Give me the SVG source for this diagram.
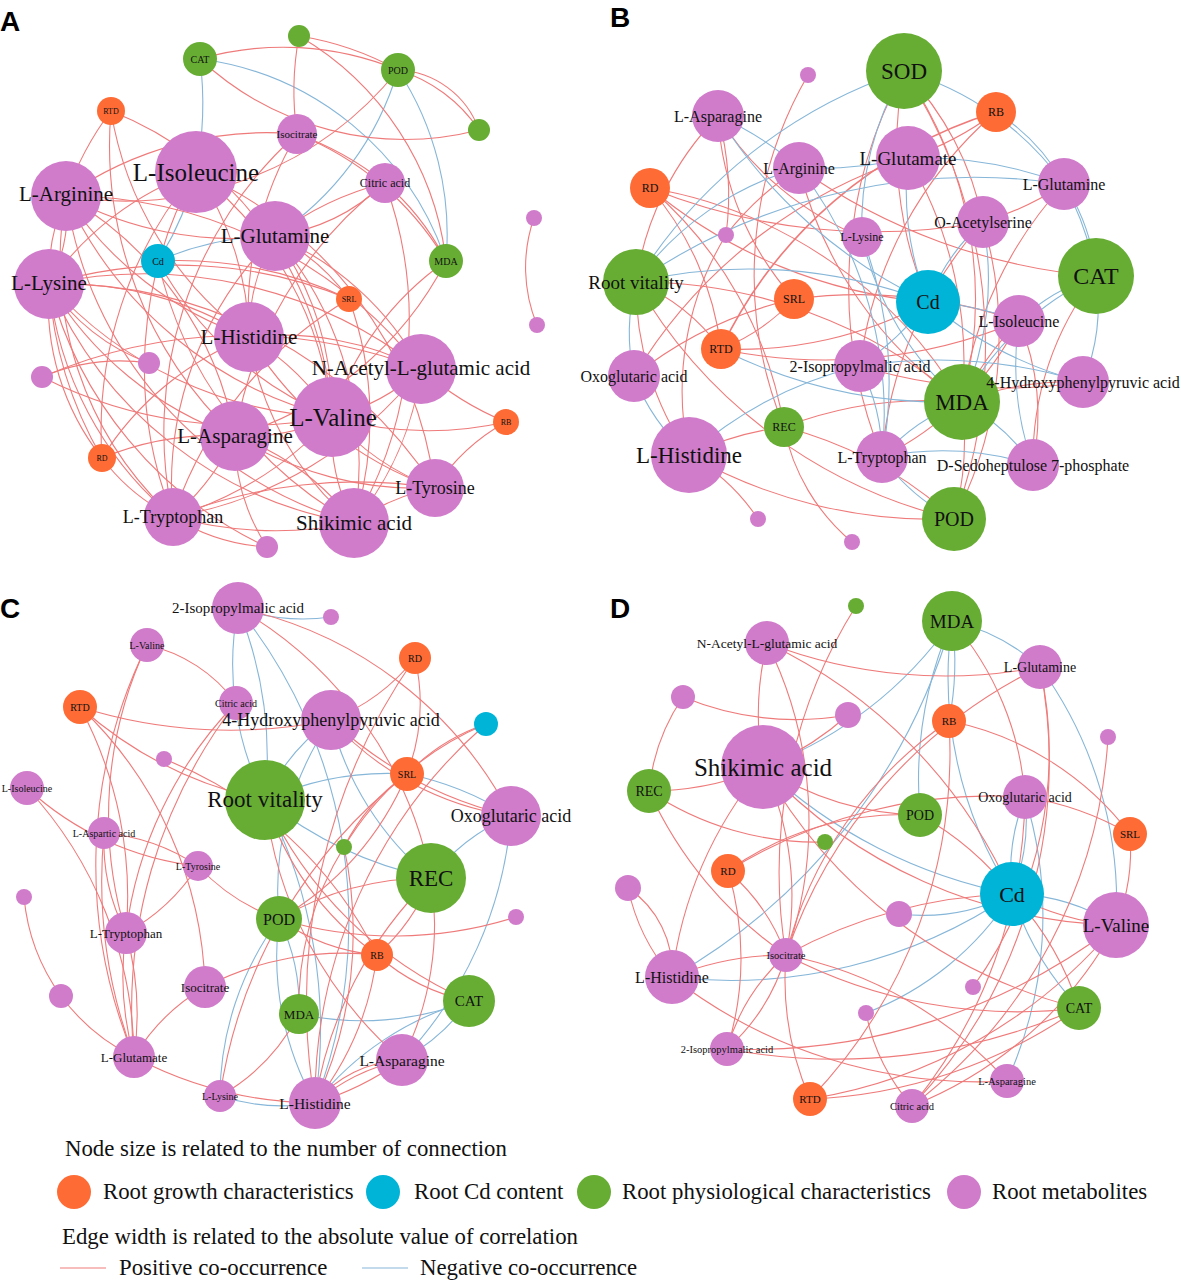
<svg xmlns="http://www.w3.org/2000/svg" width="1181" height="1280" viewBox="0 0 1181 1280">
<style>
.p{fill:none;stroke:#ef7a7a;stroke-width:1.1}
.n{fill:none;stroke:#86b6d8;stroke-width:1.1}
.o{fill:#fe6b35}.c{fill:#00b4d8}.g{fill:#67ad34}.m{fill:#d07ccb}
text{font-family:"Liberation Serif","Times New Roman",serif;fill:#111;text-anchor:middle;dominant-baseline:central}
.lt{text-anchor:start;dominant-baseline:auto;font-size:22.8px}
.pl{font-family:"Liberation Sans",Arial,sans-serif;font-weight:bold;font-size:28px;text-anchor:start;dominant-baseline:auto;fill:#000}
</style>
<rect width="1181" height="1280" fill="#fff"/>
<text class="pl" x="0" y="31">A</text>
<text class="pl" x="610" y="27">B</text>
<text class="pl" x="0" y="618">C</text>
<text class="pl" x="610" y="618">D</text>
<g id="connectors">
<!-- Panel A -->
<path class="n" d="M200 59A350 350 0 0 1 196 172"/>
<path class="n" d="M200 59A300 300 0 0 1 446 261"/>
<path class="n" d="M398 70A300 300 0 0 1 275 236"/>
<path class="n" d="M398 70A300 300 0 0 1 446 261"/>
<path class="n" d="M158 261A300 300 0 0 0 196 172"/>
<path class="n" d="M158 261A300 300 0 0 1 275 236"/>
<path class="p" d="M200 59A300 300 0 0 1 398 70"/>
<path class="p" d="M200 59A300 300 0 0 0 479 130"/>
<path class="p" d="M299 36A300 300 0 0 1 398 70"/>
<path class="p" d="M299 36A300 300 0 0 0 297 134"/>
<path class="p" d="M299 36A300 300 0 0 1 446 261"/>
<path class="p" d="M398 70A350 350 0 0 1 66 196"/>
<path class="p" d="M398 70A150 150 0 0 1 479 130"/>
<path class="p" d="M398 70A90 90 0 0 1 479 130"/>
<path class="p" d="M111 111A300 300 0 0 0 66 196"/>
<path class="p" d="M111 111A350 350 0 0 0 249 337"/>
<path class="p" d="M111 111A350 350 0 0 1 332 417"/>
<path class="p" d="M111 111A400 400 0 0 0 235 436"/>
<path class="p" d="M297 134A300 300 0 0 1 385 183"/>
<path class="p" d="M297 134A350 350 0 0 0 66 196"/>
<path class="p" d="M297 134A350 350 0 0 0 249 337"/>
<path class="p" d="M297 134A300 300 0 0 1 446 261"/>
<path class="p" d="M297 134A400 400 0 0 0 173 517"/>
<path class="p" d="M385 183A300 300 0 0 0 275 236"/>
<path class="p" d="M385 183A200 200 0 0 1 275 236"/>
<path class="p" d="M385 183A250 250 0 0 1 446 261"/>
<path class="p" d="M385 183A400 400 0 0 1 354 523"/>
<path class="p" d="M385 183A400 400 0 0 0 235 436"/>
<path class="p" d="M196 172A300 300 0 0 0 49 284"/>
<path class="p" d="M196 172A300 300 0 0 1 249 337"/>
<path class="p" d="M196 172A350 350 0 0 1 332 417"/>
<path class="p" d="M196 172A400 400 0 0 0 173 517"/>
<path class="p" d="M196 172A400 400 0 0 1 435 488"/>
<path class="p" d="M66 196A200 200 0 0 0 49 284"/>
<path class="p" d="M66 196A150 150 0 0 1 49 284"/>
<path class="p" d="M66 196A350 350 0 0 0 249 337"/>
<path class="p" d="M66 196A400 400 0 0 0 332 417"/>
<path class="p" d="M66 196A350 350 0 0 1 235 436"/>
<path class="p" d="M66 196A400 400 0 0 0 354 523"/>
<path class="p" d="M66 196A450 450 0 0 1 421 369"/>
<path class="p" d="M66 196A350 350 0 0 0 173 517"/>
<path class="p" d="M66 196A350 350 0 0 0 275 236"/>
<path class="p" d="M49 284A350 350 0 0 1 249 337"/>
<path class="p" d="M49 284A400 400 0 0 0 332 417"/>
<path class="p" d="M49 284A450 450 0 0 1 421 369"/>
<path class="p" d="M49 284A350 350 0 0 0 235 436"/>
<path class="p" d="M49 284A400 400 0 0 0 354 523"/>
<path class="p" d="M49 284A250 250 0 0 0 102 458"/>
<path class="p" d="M49 284A400 400 0 0 0 102 458"/>
<path class="p" d="M49 284A450 450 0 0 1 435 488"/>
<path class="p" d="M49 284A350 350 0 0 0 173 517"/>
<path class="p" d="M49 284A450 450 0 0 1 349 299"/>
<path class="p" d="M275 236A200 200 0 0 0 249 337"/>
<path class="p" d="M275 236A300 300 0 0 1 332 417"/>
<path class="p" d="M275 236A350 350 0 0 1 354 523"/>
<path class="p" d="M275 236A350 350 0 0 0 173 517"/>
<path class="p" d="M275 236A200 200 0 0 1 349 299"/>
<path class="p" d="M275 236A300 300 0 0 1 421 369"/>
<path class="p" d="M158 261A350 350 0 0 0 332 417"/>
<path class="p" d="M158 261A400 400 0 0 0 354 523"/>
<path class="p" d="M158 261A400 400 0 0 1 349 299"/>
<path class="p" d="M446 261A300 300 0 0 0 332 417"/>
<path class="p" d="M446 261A350 350 0 0 1 235 436"/>
<path class="p" d="M349 299A400 400 0 0 0 173 517"/>
<path class="p" d="M349 299A350 350 0 0 1 354 523"/>
<path class="p" d="M249 337A250 250 0 0 1 332 417"/>
<path class="p" d="M249 337A300 300 0 0 0 354 523"/>
<path class="p" d="M249 337A350 350 0 0 0 435 488"/>
<path class="p" d="M249 337A300 300 0 0 0 102 458"/>
<path class="p" d="M249 337A300 300 0 0 1 421 369"/>
<path class="p" d="M149 363A200 200 0 0 1 49 284"/>
<path class="p" d="M149 363A200 200 0 0 0 42 377"/>
<path class="p" d="M42 377A450 450 0 0 0 332 417"/>
<path class="p" d="M42 377A500 500 0 0 1 421 369"/>
<path class="p" d="M421 369A200 200 0 0 1 332 417"/>
<path class="p" d="M421 369A300 300 0 0 0 506 422"/>
<path class="p" d="M421 369A300 300 0 0 1 354 523"/>
<path class="p" d="M421 369A400 400 0 0 1 173 517"/>
<path class="p" d="M332 417A200 200 0 0 1 235 436"/>
<path class="p" d="M332 417A250 250 0 0 0 435 488"/>
<path class="p" d="M332 417A350 350 0 0 0 506 422"/>
<path class="p" d="M332 417A350 350 0 0 1 173 517"/>
<path class="p" d="M332 417A200 200 0 0 0 354 523"/>
<path class="p" d="M235 436A250 250 0 0 1 173 517"/>
<path class="p" d="M235 436A350 350 0 0 0 435 488"/>
<path class="p" d="M235 436A250 250 0 0 1 354 523"/>
<path class="p" d="M235 436A300 300 0 0 0 102 458"/>
<path class="p" d="M235 436A200 200 0 0 0 267 547"/>
<path class="p" d="M102 458A200 200 0 0 0 173 517"/>
<path class="p" d="M102 458A400 400 0 0 1 196 172"/>
<path class="p" d="M173 517A400 400 0 0 0 354 523"/>
<path class="p" d="M173 517A200 200 0 0 0 267 547"/>
<path class="p" d="M173 517A500 500 0 0 1 435 488"/>
<path class="p" d="M354 523A200 200 0 0 1 435 488"/>
<path class="p" d="M435 488A200 200 0 0 1 506 422"/>
<path class="p" d="M267 547A400 400 0 0 1 49 284"/>
<path class="p" d="M534 218A150 150 0 0 0 537 325"/>
<!-- Panel B -->
<path class="p" d="M808 75A400 400 0 0 0 784 427"/>
<path class="p" d="M718 116A300 300 0 0 0 636 282"/>
<path class="p" d="M718 116A300 300 0 0 1 726 235"/>
<path class="p" d="M718 116A300 300 0 0 0 794 299"/>
<path class="p" d="M718 116A300 300 0 0 0 862 237"/>
<path class="p" d="M650 188A500 500 0 0 0 928 302"/>
<path class="p" d="M650 188A450 450 0 0 1 962 402"/>
<path class="p" d="M650 188A300 300 0 0 1 721 349"/>
<path class="p" d="M650 188A400 400 0 0 1 784 427"/>
<path class="p" d="M726 235A300 300 0 0 1 799 168"/>
<path class="p" d="M726 235A300 300 0 0 0 689 455"/>
<path class="p" d="M799 168A600 600 0 0 0 1096 276"/>
<path class="p" d="M799 168A400 400 0 0 0 962 402"/>
<path class="p" d="M904 71A400 400 0 0 0 928 302"/>
<path class="p" d="M904 71A400 400 0 0 1 962 402"/>
<path class="p" d="M904 71A300 300 0 0 1 983 222"/>
<path class="p" d="M904 71A450 450 0 0 0 882 457"/>
<path class="p" d="M904 71A500 500 0 0 1 954 519"/>
<path class="p" d="M996 112A300 300 0 0 1 908 158"/>
<path class="p" d="M996 112A450 450 0 0 0 721 349" style="stroke-width:1.6"/>
<path class="p" d="M996 112A400 400 0 0 0 860 366"/>
<path class="p" d="M908 158A500 500 0 0 0 634 376"/>
<path class="p" d="M908 158A400 400 0 0 1 962 402"/>
<path class="p" d="M1064 184A300 300 0 0 1 983 222"/>
<path class="p" d="M1064 184A400 400 0 0 0 962 402"/>
<path class="p" d="M983 222A400 400 0 0 1 954 519"/>
<path class="p" d="M983 222A400 400 0 0 0 882 457"/>
<path class="p" d="M983 222A600 600 0 0 1 650 188"/>
<path class="p" d="M636 282A300 300 0 0 0 689 455"/>
<path class="p" d="M636 282A500 500 0 0 0 954 519"/>
<path class="p" d="M636 282A500 500 0 0 1 962 402"/>
<path class="p" d="M928 302A400 400 0 0 1 721 349"/>
<path class="p" d="M794 299A200 200 0 0 1 721 349"/>
<path class="p" d="M794 299A500 500 0 0 1 1019 321"/>
<path class="p" d="M721 349A500 500 0 0 0 1019 321"/>
<path class="p" d="M721 349A200 200 0 0 0 636 282"/>
<path class="p" d="M1019 321A300 300 0 0 0 962 402"/>
<path class="p" d="M1019 321A300 300 0 0 1 882 457"/>
<path class="p" d="M1019 321A250 250 0 0 1 1033 465"/>
<path class="p" d="M634 376A400 400 0 0 1 794 299"/>
<path class="p" d="M1083 382A500 500 0 0 1 860 366"/>
<path class="p" d="M1083 382A300 300 0 0 0 962 402"/>
<path class="p" d="M784 427A300 300 0 0 0 689 455"/>
<path class="p" d="M784 427A400 400 0 0 1 954 519"/>
<path class="p" d="M784 427A200 200 0 0 0 852 542"/>
<path class="p" d="M784 427A400 400 0 0 1 962 402"/>
<path class="p" d="M689 455A200 200 0 0 1 758 519"/>
<path class="p" d="M689 455A500 500 0 0 0 954 519"/>
<path class="p" d="M962 402A300 300 0 0 1 954 519"/>
<path class="p" d="M1033 465A300 300 0 0 1 1096 276"/>
<path class="n" d="M904 71A300 300 0 0 1 1064 184"/>
<path class="n" d="M904 71A300 300 0 0 0 862 237"/>
<path class="n" d="M904 71A500 500 0 0 0 636 282"/>
<path class="n" d="M996 112A200 200 0 0 1 1064 184"/>
<path class="n" d="M1064 184A300 300 0 0 1 1096 276"/>
<path class="n" d="M1064 184A200 200 0 0 1 1096 276"/>
<path class="n" d="M718 116A300 300 0 0 1 799 168"/>
<path class="n" d="M718 116A500 500 0 0 0 928 302"/>
<path class="n" d="M799 168A400 400 0 0 0 908 158"/>
<path class="n" d="M799 168A300 300 0 0 0 636 282"/>
<path class="n" d="M799 168A400 400 0 0 1 882 457"/>
<path class="n" d="M636 282A600 600 0 0 1 1064 184"/>
<path class="n" d="M636 282A500 500 0 0 1 928 302"/>
<path class="n" d="M636 282A200 200 0 0 0 634 376"/>
<path class="n" d="M908 158A400 400 0 0 1 1064 184"/>
<path class="n" d="M908 158A300 300 0 0 0 928 302"/>
<path class="n" d="M862 237A300 300 0 0 0 962 402"/>
<path class="n" d="M862 237A400 400 0 0 1 882 457"/>
<path class="n" d="M983 222A200 200 0 0 0 928 302"/>
<path class="n" d="M983 222A300 300 0 0 1 962 402"/>
<path class="n" d="M1096 276A200 200 0 0 0 1019 321"/>
<path class="n" d="M1096 276A200 200 0 0 1 1083 382"/>
<path class="n" d="M1096 276A300 300 0 0 0 962 402"/>
<path class="n" d="M928 302A300 300 0 0 1 860 366"/>
<path class="n" d="M928 302A300 300 0 0 1 1019 321"/>
<path class="n" d="M928 302A400 400 0 0 0 1083 382"/>
<path class="n" d="M721 349A500 500 0 0 0 962 402"/>
<path class="n" d="M634 376A200 200 0 0 0 689 455"/>
<path class="n" d="M860 366A400 400 0 0 0 689 455"/>
<path class="n" d="M860 366A200 200 0 0 1 882 457"/>
<path class="n" d="M860 366A500 500 0 0 1 1083 382"/>
<path class="n" d="M962 402A200 200 0 0 1 1033 465"/>
<path class="n" d="M962 402A200 200 0 0 0 882 457"/>
<path class="n" d="M882 457A300 300 0 0 1 1033 465"/>
<path class="n" d="M954 519A200 200 0 0 1 882 457"/>
<path class="n" d="M1019 321A300 300 0 0 0 1033 465"/>
<!-- Panel C -->
<path class="n" d="M238 608A200 200 0 0 0 331 617"/>
<path class="n" d="M238 608A300 300 0 0 0 265 800"/>
<path class="n" d="M238 608A400 400 0 0 1 265 800"/>
<path class="n" d="M238 608A500 500 0 0 1 315 1103"/>
<path class="n" d="M331 720A200 200 0 0 0 265 800"/>
<path class="n" d="M331 720A300 300 0 0 0 279 919"/>
<path class="n" d="M331 720A300 300 0 0 0 431 878"/>
<path class="n" d="M265 800A300 300 0 0 1 407 774"/>
<path class="n" d="M407 774A300 300 0 0 1 511 816"/>
<path class="n" d="M265 800A400 400 0 0 0 431 878"/>
<path class="n" d="M511 816A200 200 0 0 0 431 878"/>
<path class="n" d="M469 1001A200 200 0 0 1 402 1060"/>
<path class="n" d="M469 1001A300 300 0 0 0 315 1103"/>
<path class="n" d="M469 1001A300 300 0 0 1 299 1014"/>
<path class="n" d="M279 919A200 200 0 0 1 299 1014"/>
<path class="n" d="M279 919A300 300 0 0 0 220 1096"/>
<path class="n" d="M279 919A300 300 0 0 0 315 1103"/>
<path class="n" d="M220 1096A200 200 0 0 0 315 1103"/>
<path class="n" d="M511 816A400 400 0 0 1 402 1060"/>
<path class="n" d="M265 800A500 500 0 0 1 315 1103"/>
<path class="p" d="M147 645A150 150 0 0 1 236 703"/>
<path class="p" d="M147 645A400 400 0 0 0 126 933"/>
<path class="p" d="M147 645A500 500 0 0 0 134 1057"/>
<path class="p" d="M80 707A500 500 0 0 0 331 720"/>
<path class="p" d="M80 707A400 400 0 0 0 265 800"/>
<path class="p" d="M80 707A400 400 0 0 1 126 933"/>
<path class="p" d="M80 707A400 400 0 0 1 205 987"/>
<path class="p" d="M236 703A400 400 0 0 0 126 933"/>
<path class="p" d="M236 703A500 500 0 0 0 134 1057"/>
<path class="p" d="M238 608A400 400 0 0 1 511 816"/>
<path class="p" d="M238 608A400 400 0 0 1 431 878"/>
<path class="p" d="M415 658A200 200 0 0 1 331 720"/>
<path class="p" d="M415 658A200 200 0 0 1 407 774"/>
<path class="p" d="M415 658A600 600 0 0 0 315 1103"/>
<path class="p" d="M486 724A200 200 0 0 0 407 774"/>
<path class="p" d="M486 724A300 300 0 0 0 344 847"/>
<path class="p" d="M486 724A500 500 0 0 0 315 1103"/>
<path class="p" d="M331 720A300 300 0 0 0 511 816"/>
<path class="p" d="M331 720A400 400 0 0 0 511 816"/>
<path class="p" d="M164 759A400 400 0 0 1 377 955"/>
<path class="p" d="M27 788A300 300 0 0 0 198 866"/>
<path class="p" d="M27 788A400 400 0 0 1 134 1057"/>
<path class="p" d="M104 833A200 200 0 0 1 198 866"/>
<path class="p" d="M104 833A500 500 0 0 0 134 1057"/>
<path class="p" d="M104 833A200 200 0 0 0 126 933"/>
<path class="p" d="M265 800A400 400 0 0 0 402 1060"/>
<path class="p" d="M265 800A300 300 0 0 0 377 955"/>
<path class="p" d="M265 800A400 400 0 0 0 469 1001"/>
<path class="p" d="M198 866A200 200 0 0 0 279 919"/>
<path class="p" d="M198 866A200 200 0 0 1 126 933"/>
<path class="p" d="M407 774A200 200 0 0 0 344 847"/>
<path class="p" d="M407 774A300 300 0 0 1 279 919"/>
<path class="p" d="M407 774A500 500 0 0 0 220 1096"/>
<path class="p" d="M279 919A300 300 0 0 1 431 878"/>
<path class="p" d="M279 919A200 200 0 0 0 377 955"/>
<path class="p" d="M431 878A200 200 0 0 1 377 955"/>
<path class="p" d="M431 878A400 400 0 0 0 315 1103"/>
<path class="p" d="M431 878A300 300 0 0 1 402 1060"/>
<path class="p" d="M279 919A400 400 0 0 0 516 917"/>
<path class="p" d="M377 955A200 200 0 0 0 469 1001"/>
<path class="p" d="M377 955A300 300 0 0 0 205 987"/>
<path class="p" d="M377 955A300 300 0 0 1 315 1103"/>
<path class="p" d="M24 897A200 200 0 0 0 61 996"/>
<path class="p" d="M61 996A200 200 0 0 0 134 1057"/>
<path class="p" d="M126 933A300 300 0 0 0 134 1057"/>
<path class="p" d="M126 933A300 300 0 0 1 134 1057"/>
<path class="p" d="M205 987A200 200 0 0 0 134 1057"/>
<path class="p" d="M134 1057A400 400 0 0 0 315 1103"/>
<path class="p" d="M220 1096A200 200 0 0 0 299 1014"/>
<path class="p" d="M315 1103A200 200 0 0 1 402 1060"/>
<path class="p" d="M315 1103A120 120 0 0 1 402 1060"/>
<path class="p" d="M315 1103A300 300 0 0 0 402 1060"/>
<path class="p" d="M344 847A400 400 0 0 1 315 1103"/>
<path class="p" d="M344 847A300 300 0 0 0 299 1014"/>
<!-- Panel D -->
<path class="n" d="M952 621A200 200 0 0 1 1040 667"/>
<path class="n" d="M952 621A400 400 0 0 1 763 767"/>
<path class="n" d="M952 621A400 400 0 0 0 920 815"/>
<path class="n" d="M952 621A300 300 0 0 1 949 721"/>
<path class="n" d="M952 621A400 400 0 0 0 1012 894"/>
<path class="n" d="M952 621A600 600 0 0 1 672 977"/>
<path class="n" d="M1040 667A400 400 0 0 1 1116 925"/>
<path class="n" d="M763 767A500 500 0 0 0 1012 894"/>
<path class="n" d="M1025 797A200 200 0 0 0 1012 894"/>
<path class="n" d="M1025 797A200 200 0 0 1 1012 894"/>
<path class="n" d="M1012 894A200 200 0 0 1 1116 925"/>
<path class="n" d="M1012 894A200 200 0 0 1 899 914"/>
<path class="n" d="M1012 894A300 300 0 0 0 1079 1008"/>
<path class="n" d="M1012 894A300 300 0 0 1 866 1013"/>
<path class="n" d="M672 977A500 500 0 0 0 1012 894"/>
<path class="n" d="M1007 1081A400 400 0 0 0 1025 797"/>
<path class="p" d="M767 643A500 500 0 0 0 1040 667"/>
<path class="p" d="M767 643A300 300 0 0 0 763 767"/>
<path class="p" d="M767 643A400 400 0 0 1 786 955"/>
<path class="p" d="M767 643A500 500 0 0 1 1012 894"/>
<path class="p" d="M856 606A500 500 0 0 0 786 955"/>
<path class="p" d="M683 697A200 200 0 0 0 649 791"/>
<path class="p" d="M683 697A300 300 0 0 0 848 715"/>
<path class="p" d="M848 715A300 300 0 0 1 649 791"/>
<path class="p" d="M763 767A400 400 0 0 0 672 977"/>
<path class="p" d="M763 767A300 300 0 0 0 920 815"/>
<path class="p" d="M763 767A300 300 0 0 1 786 955"/>
<path class="p" d="M763 767A500 500 0 0 0 1079 1008"/>
<path class="p" d="M763 767A500 500 0 0 0 1116 925"/>
<path class="p" d="M952 621A300 300 0 0 1 1025 797"/>
<path class="p" d="M1040 667A500 500 0 0 0 786 955"/>
<path class="p" d="M1040 667A500 500 0 0 1 912 1106"/>
<path class="p" d="M1040 667A400 400 0 0 1 973 987"/>
<path class="p" d="M949 721A300 300 0 0 1 1130 834"/>
<path class="p" d="M949 721A400 400 0 0 0 786 955"/>
<path class="p" d="M949 721A500 500 0 0 1 810 1099"/>
<path class="p" d="M649 791A300 300 0 0 0 825 842"/>
<path class="p" d="M649 791A400 400 0 0 0 786 955"/>
<path class="p" d="M1025 797A300 300 0 0 1 1130 834"/>
<path class="p" d="M1025 797A500 500 0 0 0 728 871"/>
<path class="p" d="M1025 797A500 500 0 0 1 912 1106"/>
<path class="p" d="M920 815A300 300 0 0 0 728 871"/>
<path class="p" d="M920 815A300 300 0 0 1 1012 894"/>
<path class="p" d="M1130 834A200 200 0 0 1 1116 925"/>
<path class="p" d="M1108 737A500 500 0 0 1 912 1106"/>
<path class="p" d="M728 871A300 300 0 0 1 727 1049"/>
<path class="p" d="M728 871A200 200 0 0 1 786 955"/>
<path class="p" d="M1012 894A250 250 0 0 0 1116 925"/>
<path class="p" d="M1012 894A500 500 0 0 0 786 955"/>
<path class="p" d="M1012 894A300 300 0 0 1 1079 1008"/>
<path class="p" d="M1116 925A400 400 0 0 1 912 1106"/>
<path class="p" d="M1116 925A600 600 0 0 1 727 1049"/>
<path class="p" d="M1116 925A500 500 0 0 1 810 1099"/>
<path class="p" d="M628 888A200 200 0 0 0 672 977"/>
<path class="p" d="M628 888A100 100 0 0 1 672 977"/>
<path class="p" d="M672 977A300 300 0 0 1 786 955"/>
<path class="p" d="M672 977A500 500 0 0 0 1007 1081"/>
<path class="p" d="M786 955A200 200 0 0 0 727 1049"/>
<path class="p" d="M786 955A200 200 0 0 1 727 1049"/>
<path class="p" d="M786 955A300 300 0 0 0 810 1099"/>
<path class="p" d="M786 955A500 500 0 0 0 1079 1008"/>
<path class="p" d="M786 955A400 400 0 0 1 1007 1081"/>
<path class="p" d="M866 1013A200 200 0 0 0 912 1106"/>
<path class="p" d="M727 1049A600 600 0 0 0 1079 1008"/>
<path class="p" d="M810 1099A500 500 0 0 0 1079 1008"/>
</g>
<!-- Panel A nodes -->
<g id="a-cat"><circle class="g" cx="200" cy="59" r="17"/><text x="200" y="59" font-size="10">CAT</text></g>
<g id="a-g1"><circle class="g" cx="299" cy="36" r="11"/></g>
<g id="a-pod"><circle class="g" cx="398" cy="70" r="17"/><text x="398" y="70" font-size="10">POD</text></g>
<g id="a-g2"><circle class="g" cx="479" cy="130" r="11"/></g>
<g id="a-rtd"><circle class="o" cx="111" cy="111" r="14"/><text x="111" y="111" font-size="8">RTD</text></g>
<g id="a-iso"><circle class="m" cx="297" cy="134" r="20"/><text x="297" y="134" font-size="11">Isocitrate</text></g>
<g id="a-ile"><circle class="m" cx="196" cy="172" r="41"/><text x="196" y="172" font-size="25">L-Isoleucine</text></g>
<g id="a-arg"><circle class="m" cx="66" cy="196" r="35"/><text x="66" y="194" font-size="21">L-Arginine</text></g>
<g id="a-cit"><circle class="m" cx="385" cy="183" r="20"/><text x="385" y="183" font-size="12">Citric acid</text></g>
<g id="a-gln"><circle class="m" cx="275" cy="236" r="35"/><text x="275" y="236" font-size="21">L-Glutamine</text></g>
<g id="a-cd"><circle class="c" cx="158" cy="261" r="17"/><text x="158" y="261" font-size="10">Cd</text></g>
<g id="a-mda"><circle class="g" cx="446" cy="261" r="17"/><text x="446" y="261" font-size="10">MDA</text></g>
<g id="a-lys"><circle class="m" cx="49" cy="284" r="35"/><text x="49" y="283" font-size="21">L-Lysine</text></g>
<g id="a-srl"><circle class="o" cx="349" cy="299" r="13"/><text x="349" y="299" font-size="8">SRL</text></g>
<g id="a-his"><circle class="m" cx="249" cy="337" r="35"/><text x="249" y="337" font-size="21">L-Histidine</text></g>
<g id="a-s1"><circle class="m" cx="149" cy="363" r="11"/></g>
<g id="a-s2"><circle class="m" cx="42" cy="377" r="11"/></g>
<g id="a-nag"><circle class="m" cx="421" cy="369" r="35"/><text x="421" y="368" font-size="21">N-Acetyl-L-glutamic acid</text></g>
<g id="a-val"><circle class="m" cx="332" cy="417" r="40"/><text x="333" y="417" font-size="25">L-Valine</text></g>
<g id="a-asn"><circle class="m" cx="235" cy="436" r="35"/><text x="235" y="436" font-size="21">L-Asparagine</text></g>
<g id="a-rb"><circle class="o" cx="506" cy="422" r="13"/><text x="506" y="422" font-size="8">RB</text></g>
<g id="a-rd"><circle class="o" cx="102" cy="458" r="14"/><text x="102" y="458" font-size="8">RD</text></g>
<g id="a-tyr"><circle class="m" cx="435" cy="488" r="29"/><text x="435" y="488" font-size="18">L-Tyrosine</text></g>
<g id="a-trp"><circle class="m" cx="173" cy="517" r="29"/><text x="173" y="517" font-size="18">L-Tryptophan</text></g>
<g id="a-shi"><circle class="m" cx="354" cy="523" r="35"/><text x="354" y="523" font-size="21">Shikimic acid</text></g>
<g id="a-s3"><circle class="m" cx="267" cy="547" r="11"/></g>
<g id="a-s4"><circle class="m" cx="534" cy="218" r="8"/></g>
<g id="a-s5"><circle class="m" cx="537" cy="325" r="8"/></g>
<!-- Panel B nodes -->
<g id="b-sod"><circle class="g" cx="904" cy="71" r="38"/><text x="904" y="71" font-size="23">SOD</text></g>
<g id="b-s1"><circle class="m" cx="808" cy="75" r="8"/></g>
<g id="b-rb"><circle class="o" cx="996" cy="112" r="20"/><text x="996" y="112" font-size="12">RB</text></g>
<g id="b-asn"><circle class="m" cx="718" cy="116" r="26"/><text x="718" y="116" font-size="16">L-Asparagine</text></g>
<g id="b-glu"><circle class="m" cx="908" cy="158" r="32"/><text x="908" y="158" font-size="19">L-Glutamate</text></g>
<g id="b-arg"><circle class="m" cx="799" cy="168" r="26"/><text x="799" y="168" font-size="16">L-Arginine</text></g>
<g id="b-rd"><circle class="o" cx="650" cy="188" r="20"/><text x="650" y="188" font-size="12">RD</text></g>
<g id="b-gln"><circle class="m" cx="1064" cy="184" r="26"/><text x="1064" y="184" font-size="16">L-Glutamine</text></g>
<g id="b-oas"><circle class="m" cx="983" cy="222" r="26"/><text x="983" y="222" font-size="16">O-Acetylserine</text></g>
<g id="b-lys"><circle class="m" cx="862" cy="237" r="20"/><text x="862" y="237" font-size="12">L-Lysine</text></g>
<g id="b-s2"><circle class="m" cx="726" cy="235" r="8"/></g>
<g id="b-rv"><circle class="g" cx="636" cy="282" r="33"/><text x="636" y="282" font-size="19">Root vitality</text></g>
<g id="b-cat"><circle class="g" cx="1096" cy="276" r="38"/><text x="1096" y="276" font-size="24">CAT</text></g>
<g id="b-cd"><circle class="c" cx="928" cy="302" r="32"/><text x="928" y="302" font-size="20">Cd</text></g>
<g id="b-srl"><circle class="o" cx="794" cy="299" r="20"/><text x="794" y="299" font-size="12">SRL</text></g>
<g id="b-ile"><circle class="m" cx="1019" cy="321" r="26"/><text x="1019" y="321" font-size="16">L-Isoleucine</text></g>
<g id="b-rtd"><circle class="o" cx="721" cy="349" r="20"/><text x="721" y="349" font-size="12">RTD</text></g>
<g id="b-mda"><circle class="g" cx="962" cy="402" r="38"/><text x="962" y="402" font-size="23">MDA</text></g>
<g id="b-ipm"><circle class="m" cx="860" cy="366" r="26"/><text x="860" y="366" font-size="16">2-Isopropylmalic acid</text></g>
<g id="b-oxo"><circle class="m" cx="634" cy="376" r="26"/><text x="634" y="376" font-size="16">Oxoglutaric acid</text></g>
<g id="b-hpp"><circle class="m" cx="1083" cy="382" r="26"/><text x="1083" y="382" font-size="16">4-Hydroxyphenylpyruvic acid</text></g>
<g id="b-rec"><circle class="g" cx="784" cy="427" r="20"/><text x="784" y="427" font-size="12">REC</text></g>
<g id="b-his"><circle class="m" cx="689" cy="455" r="38"/><text x="689" y="455" font-size="23">L-Histidine</text></g>
<g id="b-trp"><circle class="m" cx="882" cy="457" r="26"/><text x="882" y="457" font-size="16">L-Tryptophan</text></g>
<g id="b-s7p"><circle class="m" cx="1033" cy="465" r="26"/><text x="1033" y="465" font-size="16">D-Sedoheptulose 7-phosphate</text></g>
<g id="b-pod"><circle class="g" cx="954" cy="519" r="32"/><text x="954" y="519" font-size="20">POD</text></g>
<g id="b-s3"><circle class="m" cx="758" cy="519" r="8"/></g>
<g id="b-s4"><circle class="m" cx="852" cy="542" r="8"/></g>
<!-- Panel C nodes -->
<g id="c-ipm"><circle class="m" cx="238" cy="608" r="26"/><text x="238" y="608" font-size="15">2-Isopropylmalic acid</text></g>
<g id="c-s1"><circle class="m" cx="331" cy="617" r="8"/></g>
<g id="c-val"><circle class="m" cx="147" cy="645" r="17"/><text x="147" y="645" font-size="10">L-Valine</text></g>
<g id="c-rd"><circle class="o" cx="415" cy="658" r="16"/><text x="415" y="658" font-size="10">RD</text></g>
<g id="c-rtd"><circle class="o" cx="80" cy="707" r="17"/><text x="80" y="707" font-size="10">RTD</text></g>
<g id="c-cit"><circle class="m" cx="236" cy="703" r="17"/><text x="236" y="703" font-size="10">Citric acid</text></g>
<g id="c-hpp"><circle class="m" cx="331" cy="720" r="30"/><text x="331" y="720" font-size="18">4-Hydroxyphenylpyruvic acid</text></g>
<g id="c-cy"><circle class="c" cx="486" cy="724" r="12"/></g>
<g id="c-s2"><circle class="m" cx="164" cy="759" r="8"/></g>
<g id="c-rv"><circle class="g" cx="265" cy="800" r="40"/><text x="265" y="799" font-size="23">Root vitality</text></g>
<g id="c-srl"><circle class="o" cx="407" cy="774" r="17"/><text x="407" y="774" font-size="10">SRL</text></g>
<g id="c-ile"><circle class="m" cx="27" cy="788" r="17"/><text x="27" y="788" font-size="10">L-Isoleucine</text></g>
<g id="c-oxo"><circle class="m" cx="511" cy="816" r="30"/><text x="511" y="816" font-size="18">Oxoglutaric acid</text></g>
<g id="c-asp"><circle class="m" cx="104" cy="833" r="16"/><text x="104" y="833" font-size="10">L-Aspartic acid</text></g>
<g id="c-g1"><circle class="g" cx="344" cy="847" r="8"/></g>
<g id="c-rec"><circle class="g" cx="431" cy="878" r="35"/><text x="431" y="878" font-size="23">REC</text></g>
<g id="c-tyr"><circle class="m" cx="198" cy="866" r="15"/><text x="198" y="866" font-size="10">L-Tyrosine</text></g>
<g id="c-s3"><circle class="m" cx="24" cy="897" r="8"/></g>
<g id="c-pod"><circle class="g" cx="279" cy="919" r="23"/><text x="279" y="919" font-size="16">POD</text></g>
<g id="c-s4"><circle class="m" cx="516" cy="917" r="8"/></g>
<g id="c-trp"><circle class="m" cx="126" cy="933" r="21"/><text x="126" y="933" font-size="13">L-Tryptophan</text></g>
<g id="c-rb"><circle class="o" cx="377" cy="955" r="16"/><text x="377" y="955" font-size="10">RB</text></g>
<g id="c-iso"><circle class="m" cx="205" cy="987" r="21"/><text x="205" y="987" font-size="13">Isocitrate</text></g>
<g id="c-s5"><circle class="m" cx="61" cy="996" r="12"/></g>
<g id="c-cat"><circle class="g" cx="469" cy="1001" r="26"/><text x="469" y="1001" font-size="15">CAT</text></g>
<g id="c-mda"><circle class="g" cx="299" cy="1014" r="20"/><text x="299" y="1014" font-size="13">MDA</text></g>
<g id="c-glu"><circle class="m" cx="134" cy="1057" r="21"/><text x="134" y="1057" font-size="13">L-Glutamate</text></g>
<g id="c-asn"><circle class="m" cx="402" cy="1060" r="26"/><text x="402" y="1060" font-size="15.5">L-Asparagine</text></g>
<g id="c-lys"><circle class="m" cx="220" cy="1096" r="16"/><text x="220" y="1096" font-size="10">L-Lysine</text></g>
<g id="c-his"><circle class="m" cx="315" cy="1103" r="26"/><text x="315" y="1103" font-size="15.5">L-Histidine</text></g>
<!-- Panel D nodes -->
<g id="d-g1"><circle class="g" cx="856" cy="606" r="8"/></g>
<g id="d-mda"><circle class="g" cx="952" cy="621" r="30"/><text x="952" y="621" font-size="19">MDA</text></g>
<g id="d-nag"><circle class="m" cx="767" cy="643" r="22"/><text x="767" y="643" font-size="13.5">N-Acetyl-L-glutamic acid</text></g>
<g id="d-gln"><circle class="m" cx="1040" cy="667" r="22"/><text x="1040" y="667" font-size="14">L-Glutamine</text></g>
<g id="d-s1"><circle class="m" cx="683" cy="697" r="12"/></g>
<g id="d-s2"><circle class="m" cx="848" cy="715" r="13"/></g>
<g id="d-rb"><circle class="o" cx="949" cy="721" r="17"/><text x="949" y="721" font-size="11">RB</text></g>
<g id="d-s3"><circle class="m" cx="1108" cy="737" r="8"/></g>
<g id="d-shi"><circle class="m" cx="763" cy="767" r="42"/><text x="763" y="767" font-size="25">Shikimic acid</text></g>
<g id="d-rec"><circle class="g" cx="649" cy="791" r="22"/><text x="649" y="791" font-size="14">REC</text></g>
<g id="d-pod"><circle class="g" cx="920" cy="815" r="22"/><text x="920" y="815" font-size="14">POD</text></g>
<g id="d-oxo"><circle class="m" cx="1025" cy="797" r="22"/><text x="1025" y="797" font-size="14">Oxoglutaric acid</text></g>
<g id="d-g2"><circle class="g" cx="825" cy="842" r="8"/></g>
<g id="d-srl"><circle class="o" cx="1130" cy="834" r="17"/><text x="1130" y="834" font-size="11">SRL</text></g>
<g id="d-rd"><circle class="o" cx="728" cy="871" r="17"/><text x="728" y="871" font-size="11">RD</text></g>
<g id="d-cd"><circle class="c" cx="1012" cy="894" r="32"/><text x="1012" y="894" font-size="22">Cd</text></g>
<g id="d-val"><circle class="m" cx="1116" cy="925" r="33"/><text x="1116" y="925" font-size="19">L-Valine</text></g>
<g id="d-s4"><circle class="m" cx="628" cy="888" r="13"/></g>
<g id="d-s5"><circle class="m" cx="899" cy="914" r="13"/></g>
<g id="d-iso"><circle class="m" cx="786" cy="955" r="17"/><text x="786" y="955" font-size="10.5">Isocitrate</text></g>
<g id="d-s6"><circle class="m" cx="973" cy="987" r="8"/></g>
<g id="d-his"><circle class="m" cx="672" cy="977" r="27"/><text x="672" y="977" font-size="16">L-Histidine</text></g>
<g id="d-cat"><circle class="g" cx="1079" cy="1008" r="22"/><text x="1079" y="1008" font-size="14">CAT</text></g>
<g id="d-s7"><circle class="m" cx="866" cy="1013" r="8"/></g>
<g id="d-ipm"><circle class="m" cx="727" cy="1049" r="17"/><text x="727" y="1049" font-size="10.5">2-Isopropylmalic acid</text></g>
<g id="d-asn"><circle class="m" cx="1007" cy="1081" r="17"/><text x="1007" y="1081" font-size="10.5">L-Asparagine</text></g>
<g id="d-rtd"><circle class="o" cx="810" cy="1099" r="17"/><text x="810" y="1099" font-size="11">RTD</text></g>
<g id="d-cit"><circle class="m" cx="912" cy="1106" r="17"/><text x="912" y="1106" font-size="10.5">Citric acid</text></g>
<!-- Legend -->
<g id="legend">
<text class="lt" x="65" y="1156">Node size is related to the number of connection</text>
<circle class="o" cx="74" cy="1192" r="17"/><text class="lt" x="103" y="1199">Root growth characteristics</text>
<circle class="c" cx="383" cy="1192" r="17"/><text class="lt" x="414" y="1199">Root Cd content</text>
<circle class="g" cx="594" cy="1192" r="17"/><text class="lt" x="622" y="1199">Root physiological characteristics</text>
<circle class="m" cx="964" cy="1192" r="17"/><text class="lt" x="992" y="1199">Root metabolites</text>
<text class="lt" x="62" y="1244">Edge width is related to the absolute value of correlation</text>
<line class="p" x1="60" y1="1268" x2="106" y2="1268"/><text class="lt" x="119" y="1275">Positive co-occurrence</text>
<line class="n" x1="362" y1="1268" x2="408" y2="1268"/><text class="lt" x="420" y="1275">Negative co-occurrence</text>
</g>
</svg>
